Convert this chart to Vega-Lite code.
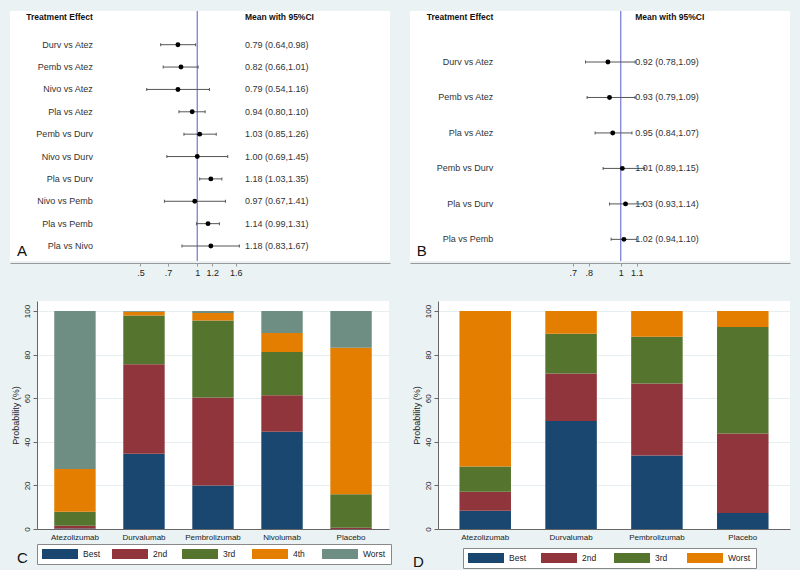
{
  "$schema": "https://vega.github.io/schema/vega-lite/v6.json",
  "background": "#eaf2f3",
  "padding": {"left": 10, "top": 10, "right": 10, "bottom": 0},
  "config": {
    "font": "Liberation Sans",
    "view": {"stroke": null},
    "axis": {"labelColor": "#222", "titleColor": "#222", "titleFontWeight": "normal"}
  },
  "spacing": 24,
  "resolve": {"scale": {"color": "independent"}},
  "vconcat": [
    {
      "spacing": 20,
      "hconcat": [
        {
          "width": 380,
          "height": 250,
          "view": {"fill": "white", "stroke": null},
          "data": {"values": [
            {"row": 1, "label": "Durv vs Atez", "est": 0.79, "lo": 0.64, "hi": 0.98, "ci": "0.79 (0.64,0.98)"},
            {"row": 2, "label": "Pemb vs Atez", "est": 0.82, "lo": 0.66, "hi": 1.01, "ci": "0.82 (0.66,1.01)"},
            {"row": 3, "label": "Nivo vs Atez", "est": 0.79, "lo": 0.54, "hi": 1.16, "ci": "0.79 (0.54,1.16)"},
            {"row": 4, "label": "Pla vs Atez", "est": 0.94, "lo": 0.80, "hi": 1.10, "ci": "0.94 (0.80,1.10)"},
            {"row": 5, "label": "Pemb vs Durv", "est": 1.03, "lo": 0.85, "hi": 1.26, "ci": "1.03 (0.85,1.26)"},
            {"row": 6, "label": "Nivo vs Durv", "est": 1.00, "lo": 0.69, "hi": 1.45, "ci": "1.00 (0.69,1.45)"},
            {"row": 7, "label": "Pla vs Durv", "est": 1.18, "lo": 1.03, "hi": 1.35, "ci": "1.18 (1.03,1.35)"},
            {"row": 8, "label": "Nivo vs Pemb", "est": 0.97, "lo": 0.67, "hi": 1.41, "ci": "0.97 (0.67,1.41)"},
            {"row": 9, "label": "Pla vs Pemb", "est": 1.14, "lo": 0.99, "hi": 1.31, "ci": "1.14 (0.99,1.31)"},
            {"row": 10, "label": "Pla vs Nivo", "est": 1.18, "lo": 0.83, "hi": 1.67, "ci": "1.18 (0.83,1.67)"}
          ]},
          "layer": [
            {
              "data": {"values": [{"ref": 1}]},
              "mark": {"type": "rule", "color": "#7d82d8", "strokeWidth": 1.3},
              "encoding": {
                "x": {"field": "ref", "type": "quantitative",
                  "scale": {"type": "log", "domain": [0.1019, 10.49], "nice": false},
                  "axis": {"title": null, "values": [0.5, 0.7, 1, 1.2, 1.6],
                    "labelExpr": "datum.value < 1 ? slice(format(datum.value, '.1f'), 1) : format(datum.value, '~g')",
                    "grid": false, "offset": 2, "domainColor": "#999", "tickColor": "#999", "tickSize": 3,
                    "labelFontSize": 9, "labelPadding": 2}}
              }
            },
            {
              "mark": {"type": "rule", "color": "#555", "strokeWidth": 1},
              "encoding": {
                "x": {"field": "lo", "type": "quantitative"},
                "x2": {"field": "hi"},
                "y": {"field": "row", "type": "quantitative", "scale": {"domain": [-0.506, 10.67], "reverse": true, "nice": false, "zero": false}, "axis": null}
              }
            },
            {
              "mark": {"type": "tick", "orient": "vertical", "size": 3, "thickness": 1, "color": "#555", "opacity": 1},
              "encoding": {"x": {"field": "lo", "type": "quantitative"}, "y": {"field": "row", "type": "quantitative"}}
            },
            {
              "mark": {"type": "tick", "orient": "vertical", "size": 3, "thickness": 1, "color": "#555", "opacity": 1},
              "encoding": {"x": {"field": "hi", "type": "quantitative"}, "y": {"field": "row", "type": "quantitative"}}
            },
            {
              "mark": {"type": "point", "filled": true, "color": "black", "size": 24, "opacity": 1},
              "encoding": {
                "x": {"field": "est", "type": "quantitative"},
                "y": {"field": "row", "type": "quantitative"}
              }
            },
            {
              "mark": {"type": "text", "align": "right", "baseline": "middle", "fontSize": 9, "color": "#333"},
              "encoding": {
                "x": {"datum": 0.28, "type": "quantitative"},
                "y": {"field": "row", "type": "quantitative"},
                "text": {"field": "label"}
              }
            },
            {
              "mark": {"type": "text", "align": "left", "baseline": "middle", "fontSize": 9, "color": "#333"},
              "encoding": {
                "x": {"datum": 1.789, "type": "quantitative"},
                "y": {"field": "row", "type": "quantitative"},
                "text": {"field": "ci"}
              }
            },
            {
              "data": {"values": [{"h1": "Treatment Effect", "h2": "Mean with 95%CI", "tag": "A"}]},
              "layer": [
                {
                  "mark": {"type": "text", "align": "right", "baseline": "middle", "fontSize": 8.5, "fontWeight": "bold", "color": "#111"},
                  "encoding": {"x": {"datum": 0.28, "type": "quantitative"}, "y": {"datum": -0.25, "type": "quantitative"}, "text": {"field": "h1"}}
                },
                {
                  "mark": {"type": "text", "align": "left", "baseline": "middle", "fontSize": 8.5, "fontWeight": "bold", "color": "#111"},
                  "encoding": {"x": {"datum": 1.789, "type": "quantitative"}, "y": {"datum": -0.25, "type": "quantitative"}, "text": {"field": "h2"}}
                },
                {
                  "mark": {"type": "text", "align": "left", "baseline": "middle", "fontSize": 15, "color": "#111"},
                  "encoding": {"x": {"datum": 0.111, "type": "quantitative"}, "y": {"datum": 10.23, "type": "quantitative"}, "text": {"field": "tag"}}
                }
              ]
            }
          ]
        },
        {
          "width": 380,
          "height": 250,
          "view": {"fill": "white", "stroke": null},
          "data": {"values": [
            {"row": 1, "label": "Durv vs Atez", "est": 0.92, "lo": 0.78, "hi": 1.09, "ci": "0.92 (0.78,1.09)"},
            {"row": 2, "label": "Pemb vs Atez", "est": 0.93, "lo": 0.79, "hi": 1.09, "ci": "0.93 (0.79,1.09)"},
            {"row": 3, "label": "Pla vs Atez", "est": 0.95, "lo": 0.84, "hi": 1.07, "ci": "0.95 (0.84,1.07)"},
            {"row": 4, "label": "Pemb vs Durv", "est": 1.01, "lo": 0.89, "hi": 1.15, "ci": "1.01 (0.89,1.15)"},
            {"row": 5, "label": "Pla vs Durv", "est": 1.03, "lo": 0.93, "hi": 1.14, "ci": "1.03 (0.93,1.14)"},
            {"row": 6, "label": "Pla vs Pemb", "est": 1.02, "lo": 0.94, "hi": 1.10, "ci": "1.02 (0.94,1.10)"}
          ]},
          "layer": [
            {
              "data": {"values": [{"ref": 1}]},
              "mark": {"type": "rule", "color": "#7d82d8", "strokeWidth": 1.3},
              "encoding": {
                "x": {"field": "ref", "type": "quantitative",
                  "scale": {"domain": [-0.317, 2.058], "nice": false, "zero": false},
                  "axis": {"title": null, "values": [0.7, 0.8, 1, 1.1],
                    "labelExpr": "datum.value < 1 ? slice(format(datum.value, '.1f'), 1) : format(datum.value, '~g')",
                    "grid": false, "offset": 2, "domainColor": "#999", "tickColor": "#999", "tickSize": 3,
                    "labelFontSize": 9, "labelPadding": 2}}
              }
            },
            {
              "mark": {"type": "rule", "color": "#555", "strokeWidth": 1},
              "encoding": {
                "x": {"field": "lo", "type": "quantitative"},
                "x2": {"field": "hi"},
                "y": {"field": "row", "type": "quantitative", "scale": {"domain": [-0.438, 6.61], "reverse": true, "nice": false, "zero": false}, "axis": null}
              }
            },
            {
              "mark": {"type": "tick", "orient": "vertical", "size": 3, "thickness": 1, "color": "#555", "opacity": 1},
              "encoding": {"x": {"field": "lo", "type": "quantitative"}, "y": {"field": "row", "type": "quantitative"}}
            },
            {
              "mark": {"type": "tick", "orient": "vertical", "size": 3, "thickness": 1, "color": "#555", "opacity": 1},
              "encoding": {"x": {"field": "hi", "type": "quantitative"}, "y": {"field": "row", "type": "quantitative"}}
            },
            {
              "mark": {"type": "point", "filled": true, "color": "black", "size": 24, "opacity": 1},
              "encoding": {
                "x": {"field": "est", "type": "quantitative"},
                "y": {"field": "row", "type": "quantitative"}
              }
            },
            {
              "mark": {"type": "text", "align": "right", "baseline": "middle", "fontSize": 9, "color": "#333"},
              "encoding": {
                "x": {"datum": 0.204, "type": "quantitative"},
                "y": {"field": "row", "type": "quantitative"},
                "text": {"field": "label"}
              }
            },
            {
              "mark": {"type": "text", "align": "left", "baseline": "middle", "fontSize": 9, "color": "#333"},
              "encoding": {
                "x": {"datum": 1.091, "type": "quantitative"},
                "y": {"field": "row", "type": "quantitative"},
                "text": {"field": "ci"}
              }
            },
            {
              "data": {"values": [{"h1": "Treatment Effect", "h2": "Mean with 95%CI", "tag": "B"}]},
              "layer": [
                {
                  "mark": {"type": "text", "align": "right", "baseline": "middle", "fontSize": 8.5, "fontWeight": "bold", "color": "#111"},
                  "encoding": {"x": {"datum": 0.204, "type": "quantitative"}, "y": {"datum": -0.277, "type": "quantitative"}, "text": {"field": "h1"}}
                },
                {
                  "mark": {"type": "text", "align": "left", "baseline": "middle", "fontSize": 8.5, "fontWeight": "bold", "color": "#111"},
                  "encoding": {"x": {"datum": 1.091, "type": "quantitative"}, "y": {"datum": -0.277, "type": "quantitative"}, "text": {"field": "h2"}}
                },
                {
                  "mark": {"type": "text", "align": "left", "baseline": "middle", "fontSize": 15, "color": "#111"},
                  "encoding": {"x": {"datum": -0.275, "type": "quantitative"}, "y": {"datum": 6.33, "type": "quantitative"}, "text": {"field": "tag"}}
                }
              ]
            }
          ]
        }
      ]
    },
    {
      "spacing": 0,
      "resolve": {"scale": {"color": "independent"}},
      "hconcat": [
        {
          "width": 1,
          "height": 1,
          "data": {"values": []},
          "mark": {"type": "rect", "opacity": 0},
          "encoding": {}
        },
        {
          "spacing": 20,
          "resolve": {"scale": {"color": "independent"}},
          "hconcat": [
            {
              "width": 352,
              "height": 228,
              "view": {"fill": "white", "stroke": null},
              "title": {"text": "C", "orient": "bottom", "anchor": "start", "frame": "group", "fontSize": 15, "fontWeight": "normal", "color": "#111", "dx": -20, "dy": -18, "offset": 4},
              "data": {"values": [
                {"drug": "Atezolizumab", "rank": "Best", "r": 1, "prob": 0.2},
                {"drug": "Atezolizumab", "rank": "2nd", "r": 2, "prob": 1.3},
                {"drug": "Atezolizumab", "rank": "3rd", "r": 3, "prob": 6.4},
                {"drug": "Atezolizumab", "rank": "4th", "r": 4, "prob": 19.6},
                {"drug": "Atezolizumab", "rank": "Worst", "r": 5, "prob": 72.5},
                {"drug": "Durvalumab", "rank": "Best", "r": 1, "prob": 34.5},
                {"drug": "Durvalumab", "rank": "2nd", "r": 2, "prob": 41.1},
                {"drug": "Durvalumab", "rank": "3rd", "r": 3, "prob": 22.3},
                {"drug": "Durvalumab", "rank": "4th", "r": 4, "prob": 1.8},
                {"drug": "Durvalumab", "rank": "Worst", "r": 5, "prob": 0.3},
                {"drug": "Pembrolizumab", "rank": "Best", "r": 1, "prob": 20.0},
                {"drug": "Pembrolizumab", "rank": "2nd", "r": 2, "prob": 40.3},
                {"drug": "Pembrolizumab", "rank": "3rd", "r": 3, "prob": 35.3},
                {"drug": "Pembrolizumab", "rank": "4th", "r": 4, "prob": 3.5},
                {"drug": "Pembrolizumab", "rank": "Worst", "r": 5, "prob": 0.9},
                {"drug": "Nivolumab", "rank": "Best", "r": 1, "prob": 44.6},
                {"drug": "Nivolumab", "rank": "2nd", "r": 2, "prob": 16.8},
                {"drug": "Nivolumab", "rank": "3rd", "r": 3, "prob": 19.8},
                {"drug": "Nivolumab", "rank": "4th", "r": 4, "prob": 8.7},
                {"drug": "Nivolumab", "rank": "Worst", "r": 5, "prob": 10.1},
                {"drug": "Placebo", "rank": "Best", "r": 1, "prob": 0.0},
                {"drug": "Placebo", "rank": "2nd", "r": 2, "prob": 0.6},
                {"drug": "Placebo", "rank": "3rd", "r": 3, "prob": 15.3},
                {"drug": "Placebo", "rank": "4th", "r": 4, "prob": 67.2},
                {"drug": "Placebo", "rank": "Worst", "r": 5, "prob": 16.9}
              ]},
              "mark": {"type": "bar"},
              "encoding": {
                "x": {"field": "drug", "type": "nominal", "sort": null,
                  "scale": {"paddingInner": 0.4, "paddingOuter": 0.25},
                  "axis": {"title": null, "labelAngle": 0, "ticks": false, "labelPadding": 4, "labelFontSize": 8, "domainColor": "#666"}},
                "y": {"field": "prob", "type": "quantitative", "stack": "zero",
                  "scale": {"domain": [0, 104.6], "nice": false},
                  "axis": {"title": "Probability (%)", "values": [0, 20, 40, 60, 80, 100], "labelAngle": -90, "labelFontSize": 8,
                    "titleFontSize": 9, "titlePadding": 3, "tickSize": 4, "tickColor": "#666", "domainColor": "#666",
                    "gridColor": "#e6eff1", "labelPadding": 2}},
                "order": {"field": "r", "type": "quantitative", "sort": "ascending"},
                "color": {"field": "rank", "type": "nominal", "sort": ["Best", "2nd", "3rd", "4th", "Worst"],
                  "scale": {"domain": ["Best", "2nd", "3rd", "4th", "Worst"], "range": ["#1a476f", "#90353b", "#55752f", "#e37e00", "#6e8e84"]},
                  "legend": {"title": null, "orient": "none", "legendX": 0, "legendY": 243, "direction": "horizontal", "columns": 5,
                    "symbolType": "M-3.6,-1H3.6V1H-3.6Z", "symbolSize": 100, "symbolOffset": 13, "symbolStrokeWidth": 0, "symbolOpacity": 1,
                    "labelFontSize": 8.5, "labelOffset": 18, "columnPadding": 6, "padding": 5, "strokeColor": "#888", "fillColor": "white",
                    "gridAlign": "all", "labelColor": "#222"}}
              }
            },
            {
              "width": 352,
              "height": 228,
              "view": {"fill": "white", "stroke": null},
              "title": {"text": "D", "orient": "bottom", "anchor": "start", "frame": "group", "fontSize": 15, "fontWeight": "normal", "color": "#111", "dx": -25, "dy": -18, "offset": 4},
              "data": {"values": [
                {"drug": "Atezolizumab", "rank": "Best", "r": 1, "prob": 8.4},
                {"drug": "Atezolizumab", "rank": "2nd", "r": 2, "prob": 8.7},
                {"drug": "Atezolizumab", "rank": "3rd", "r": 3, "prob": 11.6},
                {"drug": "Atezolizumab", "rank": "Worst", "r": 4, "prob": 71.3},
                {"drug": "Durvalumab", "rank": "Best", "r": 1, "prob": 49.6},
                {"drug": "Durvalumab", "rank": "2nd", "r": 2, "prob": 21.7},
                {"drug": "Durvalumab", "rank": "3rd", "r": 3, "prob": 18.3},
                {"drug": "Durvalumab", "rank": "Worst", "r": 4, "prob": 10.4},
                {"drug": "Pembrolizumab", "rank": "Best", "r": 1, "prob": 33.7},
                {"drug": "Pembrolizumab", "rank": "2nd", "r": 2, "prob": 33.0},
                {"drug": "Pembrolizumab", "rank": "3rd", "r": 3, "prob": 21.5},
                {"drug": "Pembrolizumab", "rank": "Worst", "r": 4, "prob": 11.8},
                {"drug": "Placebo", "rank": "Best", "r": 1, "prob": 7.3},
                {"drug": "Placebo", "rank": "2nd", "r": 2, "prob": 36.5},
                {"drug": "Placebo", "rank": "3rd", "r": 3, "prob": 48.9},
                {"drug": "Placebo", "rank": "Worst", "r": 4, "prob": 7.3}
              ]},
              "mark": {"type": "bar"},
              "encoding": {
                "x": {"field": "drug", "type": "nominal", "sort": null,
                  "scale": {"paddingInner": 0.4, "paddingOuter": 0.25},
                  "axis": {"title": null, "labelAngle": 0, "ticks": false, "labelPadding": 4, "labelFontSize": 8, "domainColor": "#666"}},
                "y": {"field": "prob", "type": "quantitative", "stack": "zero",
                  "scale": {"domain": [0, 104.6], "nice": false},
                  "axis": {"title": "Probability (%)", "values": [0, 20, 40, 60, 80, 100], "labelAngle": -90, "labelFontSize": 8,
                    "titleFontSize": 9, "titlePadding": 3, "tickSize": 4, "tickColor": "#666", "domainColor": "#666",
                    "gridColor": "#e6eff1", "labelPadding": 2}},
                "order": {"field": "r", "type": "quantitative", "sort": "ascending"},
                "color": {"field": "rank", "type": "nominal", "sort": ["Best", "2nd", "3rd", "Worst"],
                  "scale": {"domain": ["Best", "2nd", "3rd", "Worst"], "range": ["#1a476f", "#90353b", "#55752f", "#e37e00"]},
                  "legend": {"title": null, "orient": "none", "legendX": 25, "legendY": 247, "direction": "horizontal", "columns": 4,
                    "symbolType": "M-3.6,-1H3.6V1H-3.6Z", "symbolSize": 100, "symbolOffset": 13, "symbolStrokeWidth": 0, "symbolOpacity": 1,
                    "labelFontSize": 8.5, "labelOffset": 18, "columnPadding": 9, "padding": 5, "strokeColor": "#888", "fillColor": "white",
                    "gridAlign": "all", "labelColor": "#222"}}
              }
            }
          ]
        }
      ]
    }
  ]
}
